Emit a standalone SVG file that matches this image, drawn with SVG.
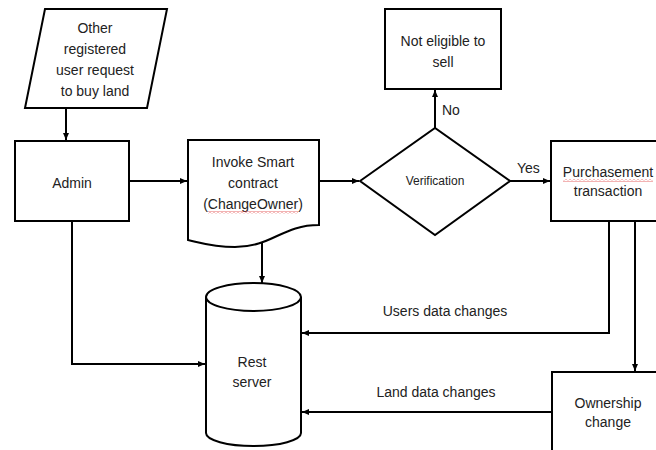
<svg xmlns="http://www.w3.org/2000/svg" width="656" height="450" viewBox="0 0 656 450">
<style>
.shape{fill:#fff;stroke:#000;stroke-width:2}
.line{fill:none;stroke:#000;stroke-width:2}
text{font-family:"Liberation Sans",Arial,sans-serif;font-size:14px;fill:#222;text-anchor:middle}
.small{font-size:12px}
.lbl{text-anchor:start}
</style>
<defs>
<marker id="arr" markerWidth="8" markerHeight="8" refX="7" refY="4" orient="auto" markerUnits="userSpaceOnUse">
<path d="M0,1 L7,4 L0,7 Z" fill="#000"/>
</marker>
<pattern id="sq" width="4" height="3" patternUnits="userSpaceOnUse">
<polyline points="0,0.5 2,2.5 4,0.5" fill="none" stroke="#e04040" stroke-width="0.8"/>
</pattern>
</defs>
<rect width="656" height="450" fill="#fff"/>
<g id="connectors">
<line class="line" x1="66" y1="108" x2="66" y2="140" marker-end="url(#arr)"/>
<line class="line" x1="129" y1="181" x2="187" y2="181" marker-end="url(#arr)"/>
<line class="line" x1="319" y1="181" x2="359" y2="181" marker-end="url(#arr)"/>
<line class="line" x1="435" y1="128" x2="435" y2="90" marker-end="url(#arr)"/>
<line class="line" x1="510" y1="181" x2="550" y2="181" marker-end="url(#arr)"/>
<line class="line" x1="262" y1="242" x2="262" y2="283" marker-end="url(#arr)"/>
<polyline class="line" points="72,221 72,364 205,364" marker-end="url(#arr)"/>
<polyline class="line" points="609,221 609,333 302,333" marker-end="url(#arr)"/>
<line class="line" x1="635" y1="221" x2="635" y2="371" marker-end="url(#arr)"/>
<line class="line" x1="552" y1="412" x2="302" y2="412" marker-end="url(#arr)"/>
<text class="lbl" x="442" y="115">No</text>
<text class="lbl" x="517" y="173">Yes</text>
<text x="445" y="316">Users data changes</text>
<text x="436" y="397">Land data changes</text>
</g>
<g id="request">
<polygon class="shape" points="45,9 167,9 147,108 25,108"/>
<text x="95" y="33">Other</text>
<text x="95" y="54">registered</text>
<text x="95" y="75">user request</text>
<text x="95" y="96">to buy land</text>
</g>
<g id="admin">
<rect class="shape" x="15" y="141" width="114" height="80"/>
<text x="72" y="188">Admin</text>
</g>
<g id="invoke">
<path class="shape" d="M188,140 H319 V225 C282,225 272,247 235,247 C212,247 198,242 188,240 Z"/>
<text x="253" y="167">Invoke Smart</text>
<text x="253" y="188">contract</text>
<text x="253" y="209">(ChangeOwner)</text>
<rect x="208" y="211" width="90" height="3" fill="url(#sq)"/>
</g>
<g id="verification">
<polygon class="shape" points="360,181 435,128 510,181 435,235"/>
<text class="small" x="435" y="185">Verification</text>
</g>
<g id="not-eligible">
<rect class="shape" x="385" y="9" width="116" height="80"/>
<text x="443" y="46">Not eligible to</text>
<text x="443" y="67">sell</text>
</g>
<g id="purchasement">
<rect class="shape" x="551" y="141" width="120" height="80"/>
<text x="608" y="177">Purchasement</text>
<text x="608" y="196">transaction</text>
<rect x="563" y="179" width="90" height="3" fill="url(#sq)"/>
</g>
<g id="ownership">
<rect class="shape" x="552" y="372" width="120" height="90"/>
<text x="608" y="408">Ownership</text>
<text x="608" y="427">change</text>
</g>
<g id="rest-server">
<path class="shape" d="M206,297 V433 A47.5,13 0 0 0 301,433 V297"/>
<ellipse class="shape" cx="253.5" cy="297" rx="47.5" ry="14"/>
<text x="252" y="367">Rest</text>
<text x="252" y="387">server</text>
</g>
</svg>
